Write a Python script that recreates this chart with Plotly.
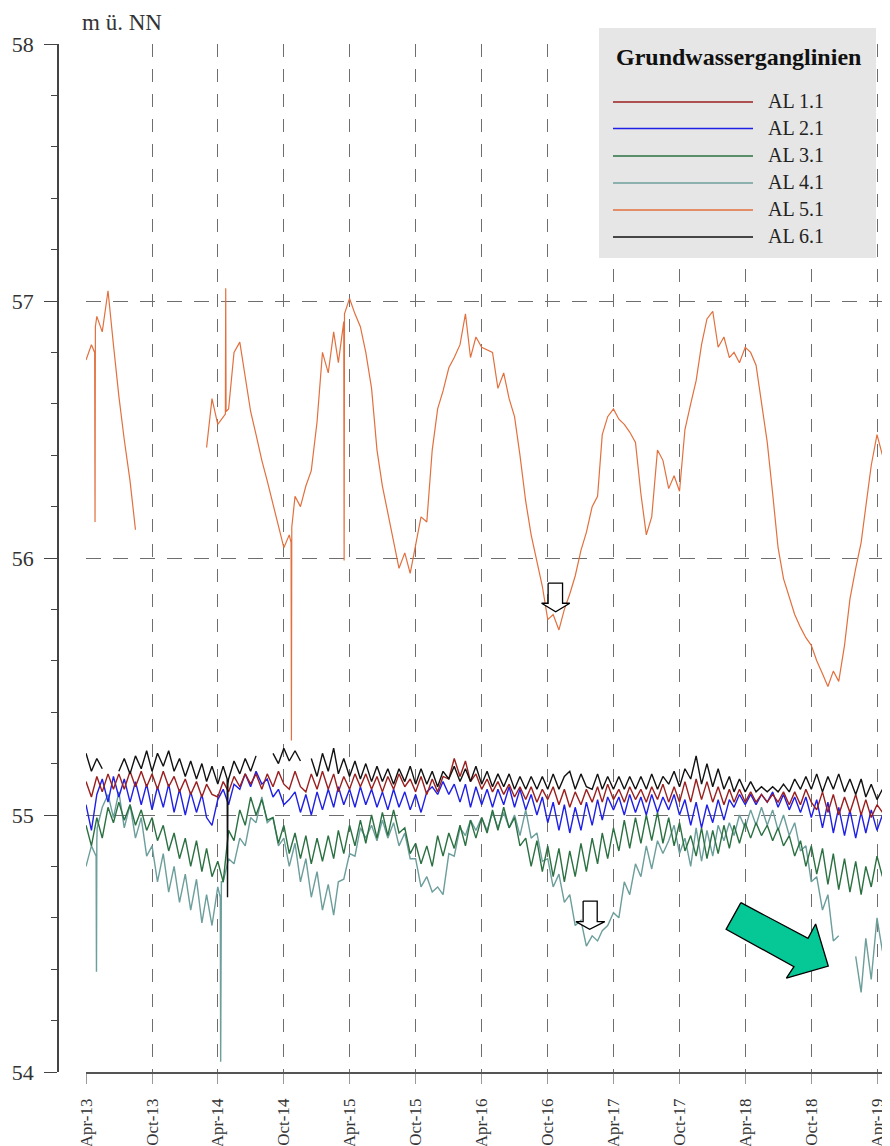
import pandas as pd
import plotly.graph_objects as go

# ---------------- data (semi-monthly readings, 1st and 16th of each month) ----------------
months = pd.date_range("2013-04-01", "2019-04-01", freq="MS")
dates = []
for m in months:
    dates.append(m)
    dates.append(m + pd.Timedelta(days=15))

series_names = ["AL 1.1", "AL 2.1", "AL 3.1", "AL 4.1", "AL 5.1", "AL 6.1"]
series_colors = ["#9a1f1f", "#1f1fe6", "#2a7041", "#6c9e9b", "#e2703e", "#111111"]

al11 = [
    55.13, 55.07, 55.15, 55.09, 55.16, 55.10, 55.16, 55.10, 55.17, 55.11, 55.17, 55.11, 55.16, 55.10, 55.17, 55.11, 55.15, 55.09, 55.14, 55.08, 55.13, 55.07, 55.12, 55.08,
    55.07, 55.13, 55.09, 55.15, 55.11, 55.16, 55.12, 55.16, 55.10, 55.16, 55.11, 55.17, 55.12, 55.10, 55.17, 55.11, 55.09, 55.16, 55.10, 55.17, 55.10, 55.16, 55.09, 55.15,
    55.10, 55.16, 55.11, 55.16, 55.10, 55.15, 55.09, 55.15, 55.10, 55.16, 55.11, 55.14, 55.09, 55.15, 55.08, 55.14, 55.09, 55.15, 55.14, 55.22, 55.15, 55.21, 55.13, 55.16,
    55.10, 55.14, 55.09, 55.13, 55.08, 55.12, 55.07, 55.11, 55.06, 55.11, 55.05, 55.10, 55.06, 55.11, 55.04, 55.10, 55.03, 55.09, 55.04, 55.10, 55.05, 55.11, 55.05, 55.12,
    55.06, 55.10, 55.05, 55.11, 55.06, 55.10, 55.05, 55.11, 55.06, 55.12, 55.05, 55.11, 55.05, 55.13, 55.05, 55.14, 55.06, 55.13, 55.05, 55.11, 55.04, 55.10, 55.05, 55.10,
    55.05, 55.09, 55.05, 55.08, 55.05, 55.08, 55.05, 55.09, 55.04, 55.09, 55.04, 55.10, 55.05, 55.02, 55.09, 55.01, 55.08, 55.00, 55.07, 55.01, 55.08, 55.00, 55.06, 54.99,
    55.04, 55.01,
]
al21 = [
    55.04, 54.94, 55.08, 55.14, 55.05, 55.15, 55.07, 55.14, 55.05, 55.13, 55.04, 55.12, 55.02, 55.11, 55.03, 55.12, 55.01, 55.10, 55.00, 55.09, 55.01, 55.08, 54.99, 54.96,
    55.06, 55.10, 55.04, 55.12, 55.10, 55.16, 55.11, 55.17, 55.12, 55.14, 55.07, 55.10, 55.04, 55.06, 55.09, 55.01, 55.08, 55.00, 55.09, 55.02, 55.10, 55.03, 55.11, 55.04,
    55.10, 55.03, 55.11, 55.04, 55.10, 55.03, 55.09, 55.02, 55.10, 55.03, 55.09, 55.02, 55.08, 55.01, 55.09, 55.11, 55.08, 55.13, 55.08, 55.12, 55.05, 55.12, 55.03, 55.11,
    55.04, 55.10, 55.03, 55.10, 55.04, 55.11, 55.03, 55.10, 55.02, 55.08, 55.00, 55.07, 54.97, 55.05, 54.94, 55.04, 54.93, 55.03, 54.94, 55.05, 54.96, 55.06, 54.98, 55.07,
    55.02, 55.07, 55.00, 55.08, 55.01, 55.07, 55.00, 55.08, 55.01, 55.07, 55.02, 55.08, 55.00, 55.06, 54.96, 55.05, 54.95, 55.04, 54.97, 55.06, 54.98, 55.06, 55.03, 55.08,
    55.04, 55.08, 55.04, 55.08, 55.05, 55.09, 55.03, 55.08, 55.02, 55.07, 55.01, 55.07, 54.99, 55.06, 54.95, 55.05, 54.93, 55.03, 54.92, 55.02, 54.91, 55.01, 54.93, 55.02,
    54.94, 55.00,
]
al31 = [
    54.96, 54.88, 54.99, 54.91, 55.03, 54.97, 55.05, 54.98, 55.04, 54.96, 55.02, 54.94, 54.99, 54.90, 54.96, 54.86, 54.93, 54.83, 54.91, 54.80, 54.90, 54.78, 54.87, 54.76,
    54.82, 54.74, 54.94, 54.90, 55.02, 54.96, 55.07, 55.00, 55.06, 54.98, 54.99, 54.89, 54.96, 54.85, 54.93, 54.83, 54.92, 54.81, 54.91, 54.82, 54.92, 54.83, 54.94, 54.85,
    54.96, 54.88, 54.98, 54.89, 55.00, 54.91, 55.01, 54.92, 55.02, 54.93, 54.95, 54.85, 54.89, 54.81, 54.88, 54.80, 54.92, 54.84, 54.93, 54.87, 54.96, 54.88, 54.98, 54.91,
    54.99, 54.93, 55.02, 54.94, 55.03, 54.95, 54.99, 54.88, 54.91, 54.80, 54.90, 54.78, 54.88, 54.76, 54.87, 54.74, 54.86, 54.76, 54.89, 54.78, 54.91, 54.81, 54.93, 54.83,
    54.95, 54.86, 54.98, 54.87, 54.99, 54.89, 55.00, 54.90, 55.01, 54.89, 54.99, 54.88, 54.97, 54.86, 54.92, 54.84, 54.95, 54.83, 54.94, 54.85, 54.96, 54.87, 54.96, 54.89,
    54.97, 54.91, 54.97, 54.92, 54.96, 54.90, 54.95, 54.88, 54.92, 54.84, 54.90, 54.80, 54.88, 54.77, 54.87, 54.73, 54.85, 54.71, 54.83, 54.70, 54.82, 54.69, 54.80, 54.72,
    54.84, 54.76,
]
al41 = [
    54.80, 54.88, 54.90, 55.03, 55.08, 54.99, 55.09, 54.95, 55.04, 54.91, 54.99, 54.84, 54.88, 54.74, 54.85, 54.70, 54.80, 54.66, 54.77, 54.63, 54.75, 54.58, 54.69, 54.57,
    54.72, 54.74, 54.83, 54.81, 54.91, 54.88, 54.99, 54.97, 55.07, 54.97, 54.99, 54.88, 54.91, 54.80, 54.89, 54.74, 54.83, 54.68, 54.78, 54.63, 54.73, 54.61, 54.74, 54.75,
    54.85, 54.84, 54.95, 54.91, 54.96, 54.90, 54.98, 54.91, 54.97, 54.88, 54.93, 54.83, 54.83, 54.72, 54.76, 54.70, 54.72, 54.69, 54.85, 54.84, 54.95, 54.92, 54.98, 54.94,
    54.99, 54.94, 55.01, 54.95, 55.01, 54.95, 55.00, 54.92, 55.02, 54.91, 54.93, 54.82, 54.83, 54.72, 54.77, 54.66, 54.69, 54.57, 54.59, 54.49, 54.53, 54.51, 54.55, 54.57,
    54.62, 54.60, 54.74, 54.69, 54.81, 54.76, 54.88, 54.79, 54.90, 54.85, 54.90, 54.96, 54.85, 54.91, 54.80, 54.95, 54.82, 54.94, 54.84, 54.96, 54.90, 54.97, 54.92, 55.00,
    54.95, 55.02, 54.96, 55.03, 54.96, 55.02, 54.94, 55.00, 54.92, 54.97, 54.86, 54.88, 54.74, 54.76, 54.63, 54.69, 54.51, 54.53, None, None, 54.45, 54.31, 54.52, 54.36,
    54.60, 54.47,
]
al51 = [
    56.77, 56.83, 56.94, 56.88, 57.04, 56.83, 56.63, 56.46, 56.30, 56.11, None, None, None, None, None, None, None, None, None, None, None, None, 56.43, 56.62,
    56.52, 56.55, 56.58, 56.80, 56.84, 56.70, 56.57, 56.48, 56.38, 56.30, 56.21, 56.12, 56.04, 56.09, 56.24, 56.20, 56.28, 56.34, 56.53, 56.80, 56.72, 56.88, 56.76, 56.92,
    57.01, 56.95, 56.90, 56.80, 56.66, 56.42, 56.28, 56.18, 56.06, 55.96, 56.02, 55.94, 56.05, 56.16, 56.14, 56.42, 56.58, 56.65, 56.74, 56.78, 56.83, 56.95, 56.78, 56.86,
    56.82, 56.81, 56.80, 56.66, 56.72, 56.62, 56.55, 56.40, 56.22, 56.09, 55.98, 55.89, 55.76, 55.78, 55.72, 55.80, 55.86, 55.93, 56.03, 56.10, 56.20, 56.24, 56.48, 56.55,
    56.58, 56.54, 56.52, 56.49, 56.45, 56.25, 56.09, 56.16, 56.42, 56.38, 56.27, 56.32, 56.26, 56.50, 56.60, 56.69, 56.83, 56.93, 56.96, 56.82, 56.86, 56.78, 56.80, 56.76,
    56.82, 56.80, 56.75, 56.60, 56.45, 56.25, 56.04, 55.92, 55.85, 55.78, 55.73, 55.69, 55.66, 55.60, 55.55, 55.50, 55.56, 55.52, 55.66, 55.84, 55.96, 56.06, 56.20, 56.36,
    56.48, 56.40,
]
al61 = [
    55.24, 55.17, 55.22, 55.18, None, None, 55.17, 55.22, 55.16, 55.23, 55.18, 55.25, 55.17, 55.24, 55.19, 55.25, 55.17, 55.22, 55.15, 55.21, 55.14, 55.20, 55.13, 55.19,
    55.12, 55.19, 55.14, 55.21, 55.16, 55.22, 55.17, 55.23, None, None, 55.24, 55.20, 55.26, 55.21, 55.25, 55.21, None, 55.22, 55.15, 55.24, 55.17, 55.26, 55.16, 55.22,
    55.15, 55.21, 55.14, 55.20, 55.13, 55.19, 55.13, 55.18, 55.12, 55.18, 55.13, 55.19, 55.12, 55.18, 55.12, 55.17, 55.11, 55.17, 55.14, 55.19, 55.13, 55.18, 55.13, 55.19,
    55.12, 55.17, 55.11, 55.16, 55.11, 55.16, 55.10, 55.15, 55.10, 55.15, 55.10, 55.15, 55.10, 55.16, 55.10, 55.15, 55.17, 55.10, 55.16, 55.11, 55.10, 55.16, 55.10, 55.15,
    55.10, 55.15, 55.10, 55.15, 55.10, 55.15, 55.10, 55.16, 55.10, 55.15, 55.12, 55.17, 55.11, 55.18, 55.14, 55.23, 55.12, 55.20, 55.11, 55.18, 55.10, 55.15, 55.09, 55.14,
    55.09, 55.13, 55.09, 55.11, 55.09, 55.11, 55.09, 55.12, 55.09, 55.14, 55.10, 55.15, 55.10, 55.16, 55.09, 55.15, 55.10, 55.16, 55.09, 55.14, 55.08, 55.14, 55.07, 55.12,
    55.06, 55.10,
]

# short spikes (date, level)
al41_spike_dates = ["2013-04-29", "2013-04-30", "2013-05-02", "2014-04-08", "2014-04-09", "2014-04-11"]
al41_spike_vals = [54.84, 54.39, 54.95, 54.68, 54.04, 54.74]
al51_spike_dates = ["2013-04-25", "2013-04-26", "2013-04-27", "2014-04-22", "2014-04-23", "2014-04-24",
                    "2014-10-21", "2014-10-22", "2014-10-23", "2015-03-16", "2015-03-17", "2015-03-18"]
al51_spike_vals = [56.80, 56.14, 56.90, 56.56, 57.05, 56.57, 56.06, 55.29, 56.12, 56.88, 55.99, 56.95]
al61_spike_dates = ["2014-04-27", "2014-04-28", "2014-04-29"]
al61_spike_vals = [55.14, 54.68, 55.12]

tick_dates = pd.date_range("2013-04-01", "2019-04-01", freq="6MS")
tick_labels = ["Apr-13", "Oct-13", "Apr-14", "Oct-14", "Apr-15", "Oct-15", "Apr-16", "Oct-16",
               "Apr-17", "Oct-17", "Apr-18", "Oct-18", "Apr-19"]
y_ticks = [54, 55, 56, 57, 58]
y_label = "m ü. NN"
legend_title = "Grundwasserganglinien"

# annotation arrows (date, level)
arrow1_x = ["2016-10-02", "2016-11-11", "2016-11-11", "2016-12-01", "2016-10-23", "2016-09-14", "2016-10-02", "2016-10-02"]
arrow1_y = [55.902, 55.902, 55.824, 55.824, 55.791, 55.824, 55.824, 55.902]
arrow2_x = ["2017-01-07", "2017-02-15", "2017-02-15", "2017-03-08", "2017-01-25", "2016-12-18", "2017-01-07", "2017-01-07"]
arrow2_y = [54.665, 54.665, 54.585, 54.585, 54.555, 54.585, 54.585, 54.665]
arrow3_x = ["2018-03-20", "2018-09-22", "2018-10-13", "2018-11-17", "2018-07-24", "2018-08-14", "2018-02-07", "2018-03-20"]
arrow3_y = [54.659, 54.520, 54.576, 54.412, 54.365, 54.410, 54.555, 54.659]

# ---------------- build ----------------
def make_series(vals, extra_dates=None, extra_vals=None):
    assert len(vals) == len(dates), len(vals)
    s = pd.Series(vals, index=dates, dtype="float64")
    if extra_dates:
        e = pd.Series(extra_vals, index=pd.to_datetime(extra_dates), dtype="float64")
        s = pd.concat([s, e]).sort_index()
    return s

all_series = {
    "AL 1.1": make_series(al11),
    "AL 2.1": make_series(al21),
    "AL 3.1": make_series(al31),
    "AL 4.1": make_series(al41, al41_spike_dates, al41_spike_vals),
    "AL 5.1": make_series(al51, al51_spike_dates, al51_spike_vals),
    "AL 6.1": make_series(al61, al61_spike_dates, al61_spike_vals),
}
color_of = dict(zip(series_names, series_colors))

# the page body adds an 8px margin, so the figure is 8px smaller than the window
OFF = 8
W, H = 890 - OFF, 1146 - OFF
ML, MR, MT, MB = 58 - OFF, 0, 44 - OFF, 74
PW, PH = W - ML - MR, H - MT - MB
def px(x):  # window pixel -> paper
    return (x - OFF - ML) / PW
def py(y):
    return (H - MB - (y - OFF)) / PH

SERIF = "Liberation Serif, Times New Roman, serif"
fig = go.Figure()

draw_order = ["AL 4.1", "AL 3.1", "AL 2.1", "AL 1.1", "AL 6.1", "AL 5.1"]
for name in draw_order:
    s = all_series[name]
    fig.add_trace(go.Scatter(x=s.index, y=s.values, mode="lines", name=name,
                             line=dict(color=color_of[name], width=1.4 if name != "AL 5.1" else 1.2),
                             connectgaps=False, showlegend=False))

for ax, ay, fc in [(arrow1_x, arrow1_y, "white"), (arrow2_x, arrow2_y, "white"), (arrow3_x, arrow3_y, "#05c896")]:
    fig.add_trace(go.Scatter(x=ax, y=ay, mode="lines", fill="toself", fillcolor=fc,
                             line=dict(color="black", width=1.3), showlegend=False, hoverinfo="skip"))

grid_col = "#6e6e6e"
fig.update_layout(
    width=W, height=H,
    margin=dict(l=ML, r=MR, t=MT, b=MB, autoexpand=False),
    paper_bgcolor="white", plot_bgcolor="white",
    showlegend=False,
    xaxis=dict(
        type="date", domain=[px(86), 1], range=["2013-04-01", "2019-05-07"], automargin=False,
        tickvals=list(tick_dates), ticktext=tick_labels, tickangle=-90,
        ticks="outside", ticklen=10, tickwidth=1.2, tickcolor="#9a9a9a",
        showline=True, linecolor="#555555", linewidth=1.6,
        showgrid=True, gridcolor=grid_col, gridwidth=1.4, griddash="13px,12px",
        zeroline=False, ticklabelstandoff=8,
        tickfont=dict(family=SERIF, size=17, color="#333333"),
    ),
    yaxis=dict(
        range=[54, 58], anchor="free", position=0, automargin=False,
        tickvals=y_ticks, ticks="outside", ticklen=13, tickwidth=1.4, tickcolor="#444444",
        showline=True, linecolor="#444444", linewidth=1.6,
        showgrid=True, gridcolor=grid_col, gridwidth=1.4, griddash="15px,12px",
        zeroline=False, ticklabelstandoff=6,
        minor=dict(dtick=0.2, ticks="outside", ticklen=6, tickwidth=1.2, tickcolor="#444444", showgrid=False),
        tickfont=dict(family=SERIF, size=22, color="#333333"),
    ),
)

# y-axis unit label
fig.add_annotation(text=y_label, xref="paper", yref="paper", x=px(80), y=py(8),
                   xanchor="left", yanchor="top", showarrow=False,
                   font=dict(family=SERIF, size=23, color="#333333"))

# custom legend box
fig.add_shape(type="rect", xref="paper", yref="paper", x0=px(599), x1=px(876), y0=py(258), y1=py(28),
              fillcolor="#e6e6e6", line=dict(width=0), layer="above")
fig.add_annotation(text="<b>" + legend_title + "</b>", xref="paper", yref="paper", x=px(738), y=py(57),
                   xanchor="center", yanchor="middle", showarrow=False,
                   font=dict(family=SERIF, size=24, color="#111111"))
row_y = [102, 128.5, 156, 183, 210, 237]
for name, yy in zip(series_names, row_y):
    fig.add_shape(type="line", xref="paper", yref="paper", x0=px(613), x1=px(753), y0=py(yy), y1=py(yy),
                  line=dict(color=color_of[name], width=1.6), layer="above")
    fig.add_annotation(text=name, xref="paper", yref="paper", x=px(766), y=py(yy - 1),
                       xanchor="left", yanchor="middle", showarrow=False,
                       font=dict(family=SERIF, size=20, color="#222222"))

fig.write_html("out.html")
